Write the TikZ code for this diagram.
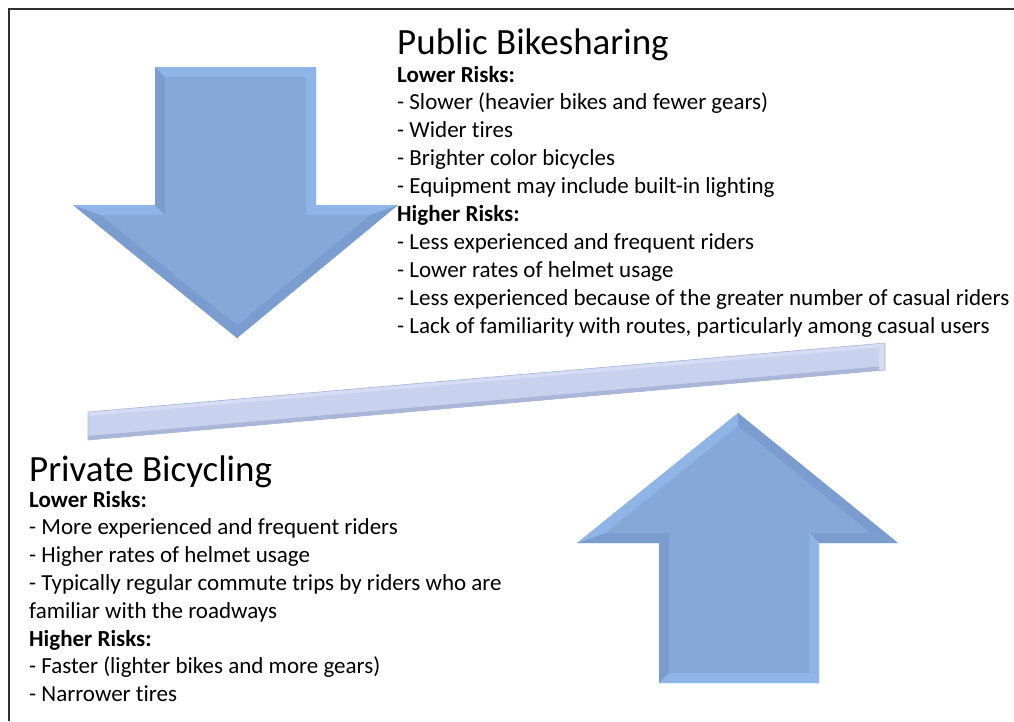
\documentclass[tikz,border=0pt]{standalone}
\usepackage{fontspec}
\setmainfont{Carlito}[Ligatures=NoCommon]
\definecolor{armain}{HTML}{85A8D8}
\definecolor{arlight}{HTML}{8FB4E6}
\definecolor{ardark}{HTML}{7A9CCE}
\definecolor{arrim}{HTML}{A8CBF5}
\definecolor{barmain}{HTML}{C8D1EE}
\definecolor{barlight}{HTML}{D6DCF3}
\definecolor{bardark}{HTML}{AAB5DA}
\definecolor{framec}{HTML}{2E2E2E}
\begin{document}
\begin{tikzpicture}[x=1pt,y=-1pt,
  bodytxt/.style={anchor=base west, inner sep=0pt, font=\fontsize{23}{28}\selectfont},
  headtxt/.style={anchor=base west, inner sep=0pt, font=\fontsize{23}{28}\selectfont\bfseries},
  titletxt/.style={anchor=base west, inner sep=0pt, font=\fontsize{37}{44}\selectfont},
  facetL/.style={fill=arlight},
  facetD/.style={fill=ardark},
  facetM/.style={fill=armain}]
\useasboundingbox (0,0) rectangle (1014,721);
\fill[white] (0,0) rectangle (1014,721);
% frame
\draw[framec, line width=2.6pt] (9,721) -- (9,9) -- (1014,9);

% down arrow
\fill[arrim] (155,67) -- (316,67) -- (316,205) -- (398,205) -- (237,338) -- (73,205) -- (155,205) -- cycle;
\fill[facetL] (155,67) -- (316,67) -- (306,77) -- (165,77) -- cycle;
\fill[facetL] (316,67) -- (316,205) -- (306,215) -- (306,77) -- cycle;
\fill[facetL] (316,205) -- (398,205) -- (370,215) -- (306,215) -- cycle;
\fill[facetD] (398,205) -- (237,338) -- (237,325) -- (370,215) -- cycle;
\fill[facetD] (237,338) -- (73,205) -- (101,215) -- (237,325) -- cycle;
\fill[facetL] (73,205) -- (155,205) -- (165,215) -- (101,215) -- cycle;
\fill[facetD] (155,205) -- (155,67) -- (165,77) -- (165,215) -- cycle;
\fill[facetM] (165,77) -- (306,77) -- (306,215) -- (370,215) -- (237,325) -- (101,215) -- (165,215) -- cycle;

% up arrow
\fill[arrim] (738,413) -- (898,543) -- (819,543) -- (819,683) -- (659,683) -- (659,543) -- (577,543) -- cycle;
\fill[facetD] (738,413) -- (898,543) -- (870,533) -- (738,426) -- cycle;
\fill[facetD] (898,543) -- (819,543) -- (809,533) -- (870,533) -- cycle;
\fill[facetL] (819,543) -- (819,683) -- (809,673) -- (809,533) -- cycle;
\fill[facetL] (819,683) -- (659,683) -- (669,673) -- (809,673) -- cycle;
\fill[facetD] (659,683) -- (659,543) -- (669,533) -- (669,673) -- cycle;
\fill[facetD] (659,543) -- (577,543) -- (605,533) -- (669,533) -- cycle;
\fill[facetL] (577,543) -- (738,413) -- (738,426) -- (605,533) -- cycle;
\fill[facetM] (738,426) -- (870,533) -- (809,533) -- (809,673) -- (669,673) -- (669,533) -- (605,533) -- cycle;

% balance bar
\fill[barmain] (88,412) -- (885,343) -- (885,370) -- (88,440) -- cycle;
\fill[barlight] (88,412) -- (885,343) -- (885,347) -- (88,416) -- cycle;
\fill[bardark] (88,436) -- (885,366) -- (885,370) -- (88,440) -- cycle;
\fill[barlight] (879,344) -- (885,343) -- (885,370) -- (879,370.5) -- cycle;
\draw[bardark, line width=0.6pt] (88,412) -- (885,343) -- (885,370) -- (88,440) -- cycle;

% top text block
\node[titletxt] (pbt) at (397,54) {Public Bikesharing};
\node[headtxt] (pb1) at (397,82) {Lower Risks:};
\node[bodytxt] (pb2) at (397,109.9) {- Slower (heavier bikes and fewer gears)};
\node[bodytxt] (pb3) at (397,137.8) {- Wider tires};
\node[bodytxt] (pb4) at (397,165.7) {- Brighter color bicycles};
\node[bodytxt] (pb5) at (397,193.6) {- Equipment may include built-in lighting};
\node[headtxt] (pb6) at (397,221.5) {Higher Risks:};
\node[bodytxt] (pb7) at (397,249.4) {- Less experienced and frequent riders};
\node[bodytxt] (pb8) at (397,277.3) {- Lower rates of helmet usage};
\node[bodytxt] (pb9) at (397,305.2) {- Less experienced because of the greater number of casual riders};
\node[bodytxt] (pb10) at (397,333.1) {- Lack of familiarity with routes, particularly among casual users};

% bottom text block
\node[titletxt] (pvt) at (29,481) {Private Bicycling};
\node[headtxt] (pv1) at (29,507) {Lower Risks:};
\node[bodytxt] (pv2) at (29,534.8) {- More experienced and frequent riders};
\node[bodytxt] (pv3) at (29,562.6) {- Higher rates of helmet usage};
\node[bodytxt] (pv4) at (29,590.4) {- Typically regular commute trips by riders who are};
\node[bodytxt] (pv5) at (29,618.2) {familiar with the roadways};
\node[headtxt] (pv6) at (29,646) {Higher Risks:};
\node[bodytxt] (pv7) at (29,673.8) {- Faster (lighter bikes and more gears)};
\node[bodytxt] (pv8) at (29,701.6) {- Narrower tires};
\end{tikzpicture}
\end{document}
